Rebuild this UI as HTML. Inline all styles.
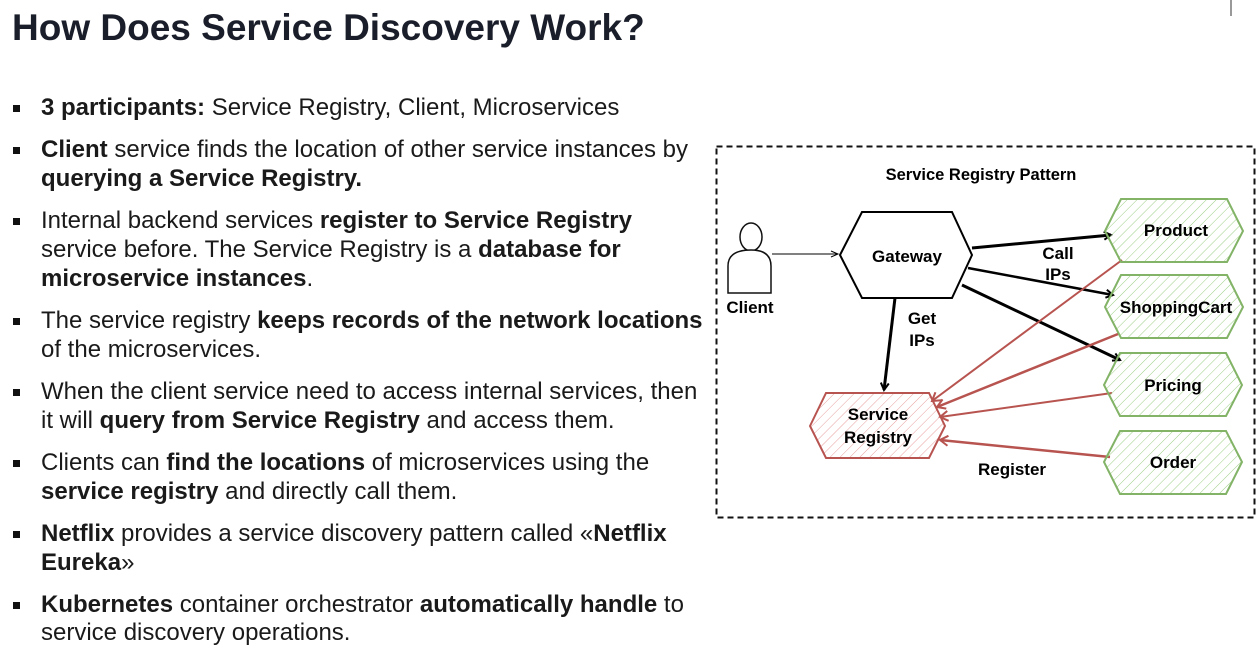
<!DOCTYPE html>
<html><head><meta charset="utf-8"><style>
body{margin:0;width:1257px;height:653px;background:#fff;overflow:hidden;position:relative;font-family:"Liberation Sans",Arial,sans-serif;color:#1a1a1a}
.t{position:absolute;left:12px;top:7px;font-size:37px;font-weight:bold;color:#1a1e2a;white-space:nowrap}
.l{position:absolute;left:41px;font-size:24px;line-height:26px;height:26px;white-space:nowrap;color:#1a1a1a}
.b{position:absolute;left:13px;width:7px;height:7px;background:#111}
svg{position:absolute;left:0;top:0}
</style></head><body>
<div class="t">How Does Service Discovery Work?</div>

<div class="b" style="top:105px"></div><div class="l" style="top:95px"><b>3 participants:</b> Service Registry, Client, Microservices</div>
<div class="b" style="top:147px"></div><div class="l" style="top:137px"><b>Client</b> service finds the location of other service instances by</div>
<div class="l" style="top:166px"><b>querying a Service Registry.</b></div>
<div class="b" style="top:218px"></div><div class="l" style="top:208px">Internal backend services <b>register to Service Registry</b></div>
<div class="l" style="top:237px">service before. The Service Registry is a <b>database for</b></div>
<div class="l" style="top:266px"><b>microservice instances</b>.</div>
<div class="b" style="top:318px"></div><div class="l" style="top:308px">The service registry <b>keeps records of the network locations</b></div>
<div class="l" style="top:337px">of the microservices.</div>
<div class="b" style="top:389px"></div><div class="l" style="top:379px">When the client service need to access internal services, then</div>
<div class="l" style="top:408px">it will <b>query from Service Registry</b> and access them.</div>
<div class="b" style="top:460px"></div><div class="l" style="top:450px">Clients can <b>find the locations</b> of microservices using the</div>
<div class="l" style="top:479px"><b>service registry</b> and directly call them.</div>
<div class="b" style="top:531px"></div><div class="l" style="top:521px"><b>Netflix</b> provides a service discovery pattern called «<b>Netflix</b></div>
<div class="l" style="top:550px"><b>Eureka</b>»</div>
<div class="b" style="top:602px"></div><div class="l" style="top:592px"><b>Kubernetes</b> container orchestrator <b>automatically handle</b> to</div>
<div class="l" style="top:620px">service discovery operations.</div>

<svg width="1257" height="653" viewBox="0 0 1257 653" font-family="Liberation Sans, Arial, sans-serif" font-weight="bold" font-size="17">
<defs>
<pattern id="hg" width="7" height="7" patternUnits="userSpaceOnUse" patternTransform="rotate(45)"><line x1="0" y1="0" x2="0" y2="7" stroke="#9ccf85" stroke-width="1"/></pattern>
<pattern id="hr" width="7" height="7" patternUnits="userSpaceOnUse" patternTransform="rotate(45)"><line x1="0" y1="0" x2="0" y2="7" stroke="#e8a0a0" stroke-width="1"/></pattern>
<marker id="ab" markerWidth="10" markerHeight="10" refX="8" refY="5" orient="auto" markerUnits="userSpaceOnUse"><path d="M1,1 L8,5 L1,9" fill="none" stroke="#000" stroke-width="2"/></marker>
<marker id="at" markerWidth="10" markerHeight="10" refX="8" refY="5" orient="auto" markerUnits="userSpaceOnUse"><path d="M1,2 L8,5 L1,8" fill="none" stroke="#000" stroke-width="1"/></marker>
<marker id="ar" markerWidth="12" markerHeight="12" refX="9" refY="6" orient="auto" markerUnits="userSpaceOnUse"><path d="M1,1 L9,6 L1,11" fill="none" stroke="#b85450" stroke-width="2"/></marker>
</defs>
<rect x="716.5" y="146.5" width="538" height="371" fill="none" stroke="#111" stroke-width="2" stroke-dasharray="6,4"/>
<line x1="1231" y1="0" x2="1231" y2="16" stroke="#333" stroke-width="1"/>
<text x="981" y="180" text-anchor="middle" font-size="16.5">Service Registry Pattern</text>
<ellipse cx="751" cy="237" rx="11" ry="14" fill="#fff" stroke="#111" stroke-width="1.5"/>
<path d="M728,293 L728,266 Q728,250 751,250 Q771,250 771,266 L771,293 Z" fill="#fff" stroke="#111" stroke-width="1.5"/>
<text x="750" y="313" text-anchor="middle">Client</text>
<line x1="772" y1="254" x2="838" y2="254" stroke="#000" stroke-width="1" marker-end="url(#at)"/>
<line x1="972" y1="248" x2="1111" y2="235" stroke="#000" stroke-width="3" marker-end="url(#ab)"/>
<line x1="968" y1="268" x2="1113" y2="295" stroke="#000" stroke-width="2.5" marker-end="url(#ab)"/>
<line x1="962" y1="285" x2="1120" y2="360" stroke="#000" stroke-width="3" marker-end="url(#ab)"/>
<line x1="895" y1="298" x2="884" y2="390" stroke="#000" stroke-width="3" marker-end="url(#ab)"/>
<polygon points="840,255 862,212 952,212 972,255 952,298 862,298" fill="#fff" stroke="#000" stroke-width="2"/>
<text x="907" y="262" text-anchor="middle">Gateway</text>
<line x1="1122" y1="260" x2="932" y2="401" stroke="#b85450" stroke-width="2" marker-end="url(#ar)"/>
<line x1="1118" y1="334" x2="937" y2="407" stroke="#b85450" stroke-width="2.5" marker-end="url(#ar)"/>
<line x1="1112" y1="393" x2="940" y2="417" stroke="#b85450" stroke-width="2" marker-end="url(#ar)"/>
<line x1="1110" y1="457" x2="940" y2="440" stroke="#b85450" stroke-width="2.5" marker-end="url(#ar)"/>
<polygon points="810,426 826,393 929,393 945,426 929,458 826,458" fill="url(#hr)" stroke="#b85450" stroke-width="2"/>
<text x="878" y="420" text-anchor="middle">Service</text>
<text x="878" y="443" text-anchor="middle">Registry</text>
<g stroke="#82b366" stroke-width="2" fill="url(#hg)">
<polygon points="1105,231 1121,199 1227,199 1243,231 1227,262 1121,262"/>
<polygon points="1105,307 1121,275 1227,275 1243,307 1227,338 1121,338"/>
<polygon points="1104,385 1120,353 1226,353 1242,385 1226,416 1120,416"/>
<polygon points="1104,462 1120,431 1226,431 1242,462 1226,494 1120,494"/>
</g>
<text x="1176" y="236" text-anchor="middle">Product</text>
<text x="1176" y="313" text-anchor="middle">ShoppingCart</text>
<text x="1173" y="391" text-anchor="middle">Pricing</text>
<text x="1173" y="468" text-anchor="middle">Order</text>
<text x="1058" y="259" text-anchor="middle">Call</text>
<text x="1058" y="280" text-anchor="middle">IPs</text>
<text x="922" y="324" text-anchor="middle">Get</text>
<text x="922" y="346" text-anchor="middle">IPs</text>
<text x="1012" y="475" text-anchor="middle">Register</text>
</svg>
</body></html>
